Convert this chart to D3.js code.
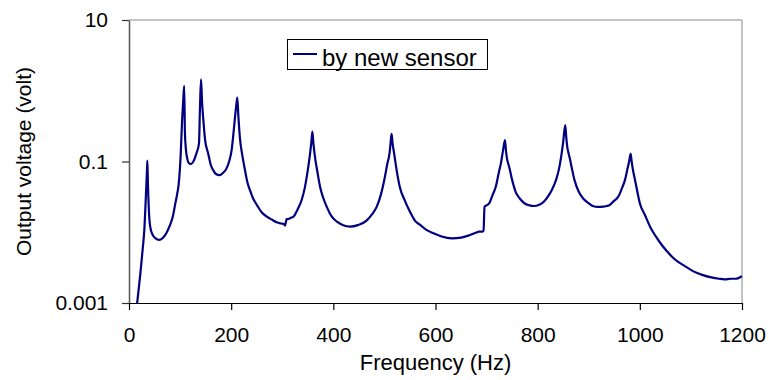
<!DOCTYPE html>
<html><head><meta charset="utf-8">
<script src="https://cdn.jsdelivr.net/npm/d3@7"></script>
<style>body{margin:0;background:#fff}svg{display:block}text{font-family:"Liberation Sans",Arial,sans-serif;fill:#000}</style>
</head><body><svg id="c" width="769" height="380"></svg>
<script>
const freq = [16,22,27,30,33,35,36,37,38,40,42,46,52,59,66,73,80,86,90,95,97,101,104,106,108,109.5,111.5,114,117,121,126,132,137,139,141,143,145.5,149,155,160,165,171,177,184,191,196,201,204.5,207.5,210,212,214,217,222,227,232,237,243,250,260,270,280,289,298,303,305.5,308.5,312,317,322,330,338,344,348,352,354.5,357,359,361,364,369,374,380,387,396,407,418,433,448,465,476,485,494,501,506,510,512,514,516,519,524,530,540,550,560,570,583,596,612,632,650,665,680,685,692,694,696,700,705,712,718,724,728,732,736,738,740,742,744,750,757,765,774,784,793,803,812,820,828,836,842,846,850,854,856,858,860,863,867,872,880,889,899,908,918,928,935,941,950,958,965,971,976,979,982,984,986,990.5,995,1000,1010,1020,1031,1043,1053,1063,1075,1089,1105,1122,1140,1155,1166,1178,1188,1200];
const voltage = [0.001,0.0025,0.006,0.0108,0.032,0.07,0.103,0.05,0.03,0.015,0.0115,0.0093,0.0082,0.0078,0.0083,0.0097,0.0125,0.017,0.024,0.037,0.046,0.117,0.39,0.7,1.17,0.25,0.146,0.11,0.095,0.092,0.1,0.13,0.18,0.6,1.45,0.7,0.39,0.2,0.13,0.09,0.075,0.066,0.064,0.069,0.08,0.1,0.146,0.25,0.42,0.62,0.8,0.45,0.22,0.12,0.076,0.05,0.039,0.03,0.0245,0.019,0.0166,0.015,0.0138,0.0133,0.0131,0.0124,0.0153,0.0154,0.016,0.0166,0.021,0.0286,0.042,0.061,0.095,0.13,0.19,0.264,0.18,0.117,0.07,0.044,0.031,0.023,0.017,0.0141,0.0127,0.012,0.0126,0.0146,0.018,0.023,0.036,0.061,0.095,0.13,0.18,0.245,0.18,0.13,0.075,0.044,0.028,0.0195,0.0145,0.0127,0.0107,0.0097,0.0087,0.0082,0.0084,0.009,0.0099,0.0102,0.0102,0.0105,0.023,0.024,0.0256,0.034,0.044,0.07,0.094,0.14,0.2,0.14,0.11,0.095,0.085,0.055,0.037,0.03,0.0257,0.024,0.0235,0.0245,0.027,0.032,0.04,0.055,0.08,0.117,0.19,0.328,0.22,0.16,0.135,0.11,0.08,0.055,0.038,0.03,0.026,0.0235,0.0228,0.023,0.0235,0.0243,0.028,0.032,0.042,0.055,0.08,0.1,0.128,0.1,0.08,0.055,0.038,0.0257,0.0175,0.012,0.0088,0.0066,0.0054,0.0045,0.0038,0.0033,0.0028,0.0025,0.0023,0.0022,0.00216,0.0022,0.0022,0.0024];
const xTicks = [0,200,400,600,800,1000,1200];
const yTicks = [0.001,0.1,10];
const yTickLabels = ["0.001","0.1","10"];
const seriesName = "by new sensor";
const xTitle = "Frequency (Hz)";
const yTitle = "Output voltage (volt)";

const svg = d3.select("#c");
const L=129,R=742,T=20,B=303;
const x = d3.scaleLinear().domain([0,1200]).range([L,R]);
const y = d3.scaleLog().domain([0.001,10]).range([B,T]);

svg.append("line").attr("x1",L).attr("x2",R).attr("y1",T).attr("y2",T).attr("stroke","#b0b0b0").attr("stroke-width",1.5);
svg.append("line").attr("x1",R).attr("x2",R).attr("y1",T).attr("y2",B).attr("stroke","#b0b0b0").attr("stroke-width",1.5);

const line = d3.line().x((d,i)=>x(freq[i])).y((d,i)=>y(voltage[i])).curve(d3.curveMonotoneX);
svg.append("path").datum(voltage).attr("d",line).attr("fill","none").attr("stroke","#000080").attr("stroke-width",2.2).attr("stroke-linejoin","round");

const ya = svg.append("g").attr("transform",`translate(${L},0)`)
  .call(d3.axisLeft(y).tickValues(yTicks).tickFormat((d,i)=>yTickLabels[i]).tickSize(7).tickPadding(14).tickSizeOuter(0));
ya.select(".domain").attr("stroke","#555").attr("stroke-width",1.5);
ya.selectAll(".tick line").attr("stroke","#333").attr("stroke-width",1.2);
ya.selectAll("text").style("font-size","21px").attr("fill","#000");

const xa = svg.append("g").attr("transform",`translate(0,${B})`)
  .call(d3.axisBottom(x).tickValues(xTicks).tickFormat(d3.format("d")).tickSize(7).tickPadding(17).tickSizeOuter(0));
xa.select(".domain").attr("stroke","#000").attr("stroke-width",1.2);
xa.selectAll(".tick line").attr("stroke","#000").attr("stroke-width",1.2);
xa.selectAll("text").style("font-size","21px").attr("fill","#000");

svg.append("text").attr("x",(L+R)/2).attr("y",370).attr("text-anchor","middle").style("font-size","22px").text(xTitle);
svg.append("text").attr("transform",`translate(31,${(T+B)/2}) rotate(-90)`).attr("text-anchor","middle").style("font-size","21px").text(yTitle);

const lg = svg.append("g");
lg.append("rect").attr("x",287.5).attr("y",39.5).attr("width",200).attr("height",30).attr("fill","#fff").attr("stroke","#000").attr("stroke-width",1);
lg.append("line").attr("x1",293).attr("x2",317).attr("y1",54).attr("y2",54).attr("stroke","#000080").attr("stroke-width",2);
lg.append("text").attr("x",322).attr("y",66).style("font-size","24px").text(seriesName);
</script></body></html>
